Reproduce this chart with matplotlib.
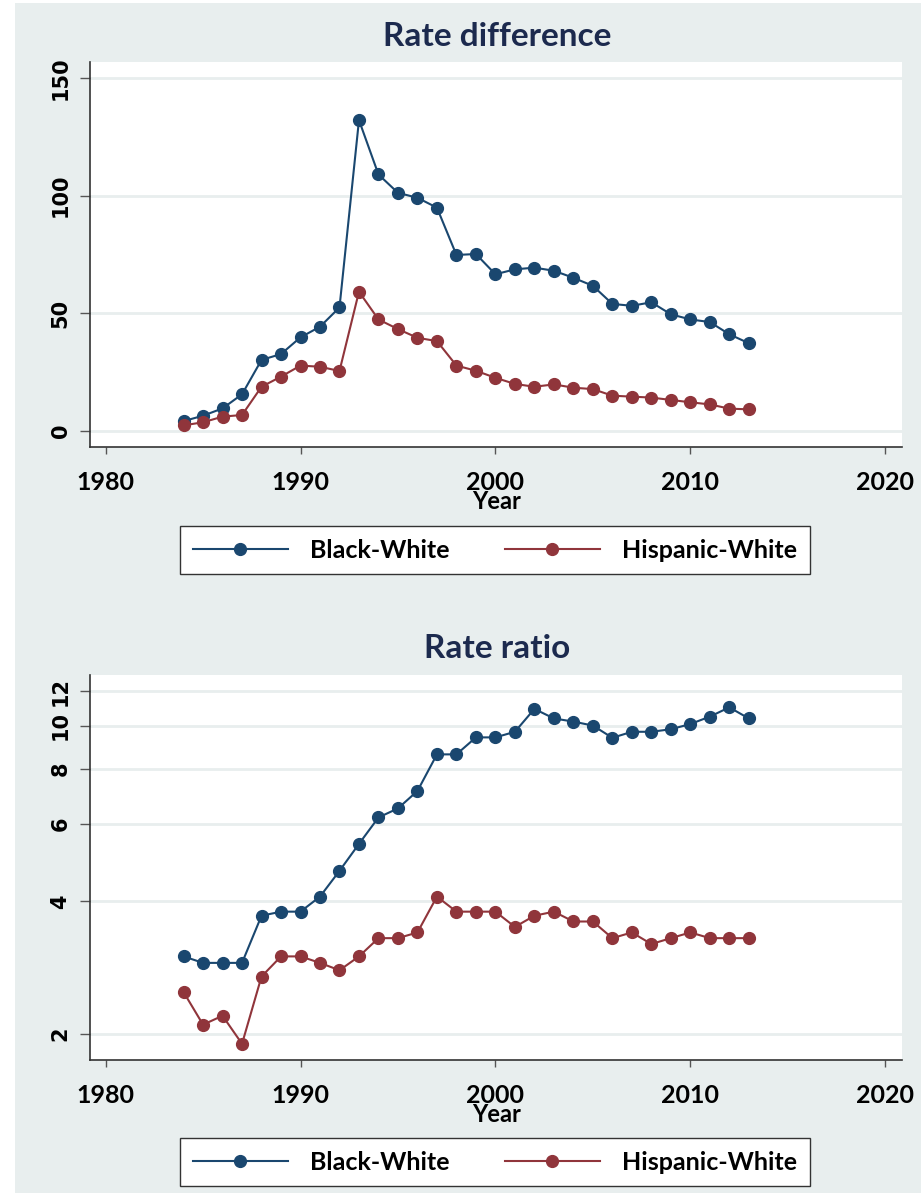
import numpy as np
import matplotlib.pyplot as plt
from matplotlib.patches import Rectangle
from matplotlib.ticker import FixedLocator, NullLocator

years = list(range(1984, 2014))

# rate difference (per 100,000)
diff_black = [4.2, 6.5, 9.6, 15.6, 30.2, 32.7, 39.8, 44.3, 52.5, 132.1,
              109.0, 101.2, 99.1, 94.9, 74.8, 75.2, 66.6, 68.7, 69.4, 68.1,
              65.1, 61.7, 54.0, 53.2, 54.7, 49.6, 47.4, 46.3, 41.1, 37.3]
diff_hisp = [2.4, 3.7, 6.1, 6.8, 18.8, 23.1, 27.8, 27.3, 25.5, 59.2,
             47.4, 43.3, 39.6, 38.2, 27.8, 25.6, 22.6, 20.0, 18.8, 19.8,
             18.4, 17.8, 15.0, 14.6, 14.2, 13.2, 12.2, 11.3, 9.5, 9.2]

# rate ratio
ratio_black = [3.0, 2.9, 2.9, 2.9, 3.71, 3.79, 3.79, 4.1, 4.69, 5.4,
               6.2, 6.5, 7.12, 8.62, 8.62, 9.42, 9.42, 9.7, 10.93, 10.4,
               10.23, 10.02, 9.4, 9.7, 9.7, 9.83, 10.1, 10.5, 11.02, 10.4]
ratio_hisp = [2.49, 2.1, 2.2, 1.9, 2.7, 3.0, 3.0, 2.9, 2.79, 3.0,
              3.3, 3.3, 3.4, 4.1, 3.79, 3.79, 3.79, 3.5, 3.71, 3.79,
              3.6, 3.6, 3.3, 3.4, 3.2, 3.3, 3.4, 3.3, 3.3, 3.3]

series_labels = ['Black-White', 'Hispanic-White']
xticks = [1980, 1990, 2000, 2010, 2020]
diff_ticks = [0, 50, 100, 150]
ratio_ticks = [2, 4, 6, 8, 10, 12]

navy = '#1a476f'
maroon = '#90353b'
bg = '#e8eeee'
titlecol = '#1c2a4e'

fig = plt.figure(figsize=(9.21, 11.93), dpi=100, facecolor='white')
fig.patches.append(Rectangle((15/921, 0), 1 - 15/921, 1 - 3/1193,
                             transform=fig.transFigure, facecolor=bg,
                             edgecolor='none', zorder=-10))

ax1 = fig.add_axes([90/921, 1 - 447/1193, 812/921, 385/1193])
ax2 = fig.add_axes([90/921, 1 - 1060/1193, 812/921, 385/1193])


def style(ax):
    ax.set_facecolor('white')
    for s in ['top', 'right']:
        ax.spines[s].set_visible(False)
    for s in ['left', 'bottom']:
        ax.spines[s].set_color('#333333')
        ax.spines[s].set_linewidth(1.2)
    ax.set_xlim(1979.2, 2020.86)
    ax.set_xticks(xticks)
    ax.tick_params(axis='x', length=5, width=1, color='#555555', pad=12,
                   labelsize=18)
    ax.tick_params(axis='y', length=7, width=1, color='#555555', pad=7,
                   labelsize=15)
    for lab in ax.get_xticklabels():
        lab.set_family(['Lato', 'DejaVu Sans'])
        lab.set_fontweight('bold')
    ax.yaxis.grid(True, color=bg, linewidth=2)
    ax.set_axisbelow(True)


def draw(ax, b, h):
    ax.plot(years, b, color=navy, lw=1.5, marker='o', ms=8.5,
            label=series_labels[0])
    ax.plot(years, h, color=maroon, lw=1.5, marker='o', ms=8.5,
            label=series_labels[1])


draw(ax1, diff_black, diff_hisp)
ax1.set_ylim(-6.8, 156.8)
ax1.set_yticks(diff_ticks)
style(ax1)

draw(ax2, ratio_black, ratio_hisp)
ax2.set_yscale('log')
ax2.set_ylim(1.746, 13.05)
ax2.yaxis.set_major_locator(FixedLocator(ratio_ticks))
ax2.yaxis.set_minor_locator(NullLocator())
ax2.set_yticklabels([str(t) for t in ratio_ticks])
style(ax2)

for ax in (ax1, ax2):
    for lab in ax.get_yticklabels():
        lab.set_rotation(90)
        lab.set_va('center')
        lab.set_fontweight('bold')
        lab.set_family('DejaVu Sans')

fig.text(497/921, 1 - 36/1193, 'Rate difference', ha='center', va='center',
         fontsize=24, fontweight='bold', color=titlecol,
         family=['Lato', 'DejaVu Sans'])
fig.text(497/921, 1 - 649/1193, 'Rate ratio', ha='center', va='center',
         fontsize=24, fontweight='bold', color=titlecol,
         family=['Lato', 'DejaVu Sans'])
for yy in (502, 1114):
    fig.text(497/921, 1 - yy/1193, 'Year', ha='center', va='center',
             fontsize=17, fontweight='bold', color='black',
             family=['Lato', 'DejaVu Sans'])

for ax, yy in ((ax1, 550), (ax2, 1162)):
    leg = ax.legend(loc='center', bbox_to_anchor=(495/921, 1 - yy/1193),
                    bbox_transform=fig.transFigure, ncol=2, frameon=True,
                    fancybox=False, edgecolor='#333333', framealpha=1,
                    prop={'family': ['Lato', 'DejaVu Sans'], 'weight': 'bold',
                          'size': 18},
                    handlelength=3.8, handletextpad=0.9, columnspacing=2.2,
                    borderpad=0.5, borderaxespad=0)
    leg.get_frame().set_linewidth(1.0)

fig.savefig('out.png', dpi=100, facecolor='white')
